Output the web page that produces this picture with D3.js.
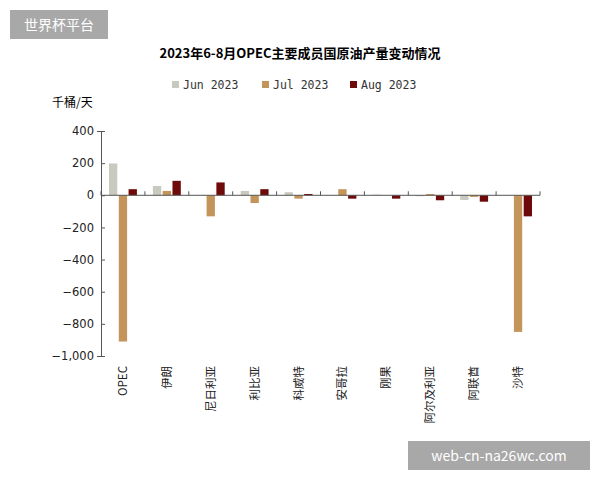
<!DOCTYPE html>
<html>
<head>
<meta charset="utf-8">
<script src="https://d3js.org/d3.v7.min.js"></script>
<style>body{margin:0;background:#fff;font-family:"Noto Sans CJK SC","DejaVu Sans",sans-serif;}</style>
</head>
<body>
<script>
// data
var categories = ["OPEC","伊朗","尼日利亚","利比亚","科威特","安哥拉","刚果","阿尔及利亚","阿联酋","沙特"];
var seriesNames = ["Jun 2023","Jul 2023","Aug 2023"];
var jun = [198, 58, 2, 27, 19, 0, 4, -6, -29, 0];
var jul = [-910, 27, -131, -48, -21, 38, 0, 8, -10, -850];
var aug = [38, 90, 80, 38, 8, -21, -21, -31, -40, -131];
var yTicks = [400, 200, 0, -200, -400, -600, -800, -1000];
var colors = ["#c9c9c0", "#c4955a", "#6e0a0a"];

var svg = d3.select("body").append("svg").attr("width", 600).attr("height", 480);
var x = d3.scaleBand().domain(categories).range([101, 540]);
var y = d3.scaleLinear().domain([-1000, 400]).range([356, 131]);
var sub = d3.scaleBand().domain([0,1,2]).range([8, x.bandwidth() - 8]).paddingInner(0.15);

svg.append("text").attr("x", 300).attr("y", 58).attr("text-anchor", "middle")
  .attr("font-size", 13).attr("font-weight", "bold").text("2023年6-8月OPEC主要成员国原油产量变动情况");

// legend
var lg = svg.append("g").attr("font-family", "DejaVu Sans Mono, monospace").attr("font-size", 11.5);
[172, 262, 350].forEach(function (lx, i) {
  lg.append("rect").attr("x", lx).attr("y", 81).attr("width", 7).attr("height", 7).attr("fill", colors[i]);
  lg.append("text").attr("x", lx + 11).attr("y", 89).attr("fill", "#333").text(seriesNames[i]);
});

svg.append("text").attr("x", 52).attr("y", 107).attr("font-size", 12).text("千桶/天");

var data = [jun, jul, aug];
data.forEach(function (vals, s) {
  svg.append("g").selectAll("rect").data(vals).enter().append("rect")
    .attr("x", function (d, i) { return x(categories[i]) + sub(s); })
    .attr("width", sub.bandwidth())
    .attr("y", function (d) { return y(Math.max(0, d)); })
    .attr("height", function (d) { return Math.abs(y(d) - y(0)); })
    .attr("fill", colors[s]);
});

// y axis
var ya = svg.append("g").attr("transform", "translate(101,0)")
  .call(d3.axisLeft(y).tickValues(yTicks).tickSize(4).tickFormat(d3.format(",")));
ya.selectAll("text").attr("font-size", 11.5).attr("font-family", "DejaVu Sans, sans-serif").attr("fill", "#222");
ya.select(".domain").attr("stroke", "#555");
ya.selectAll(".tick line").attr("stroke", "#555").attr("x2", 4).attr("x1", 0);

// x axis at zero
var xa = svg.append("g").attr("transform", "translate(0," + y(0) + ")");
xa.append("line").attr("x1", 101).attr("x2", 540).attr("stroke", "#555");
xa.selectAll(".t").data(categories.concat(["end"])).enter().append("line")
  .attr("x1", function (d, i) { return 101 + i * x.step(); })
  .attr("x2", function (d, i) { return 101 + i * x.step(); })
  .attr("y1", -4).attr("y2", 0).attr("stroke", "#555");

svg.append("g").selectAll("text").data(categories).enter().append("text")
  .attr("transform", function (d) { return "translate(" + (x(d) + x.bandwidth() / 2 + 4) + ",366) rotate(-90)"; })
  .attr("text-anchor", "end").attr("font-size", 11.5).attr("fill", "#222").text(function (d) { return d; });

// watermarks
svg.append("rect").attr("x", 10).attr("y", 10).attr("width", 98).attr("height", 29).attr("fill", "#999").attr("opacity", 0.85);
svg.append("text").attr("x", 59).attr("y", 30).attr("text-anchor", "middle").attr("fill", "#fff").attr("font-size", 14).text("世界杯平台");
svg.append("rect").attr("x", 408).attr("y", 441).attr("width", 182).attr("height", 29).attr("fill", "#999").attr("opacity", 0.85);
svg.append("text").attr("x", 499).attr("y", 461).attr("text-anchor", "middle").attr("fill", "#fff").attr("font-size", 14).text("web-cn-na26wc.com");
</script>
</body>
</html>
